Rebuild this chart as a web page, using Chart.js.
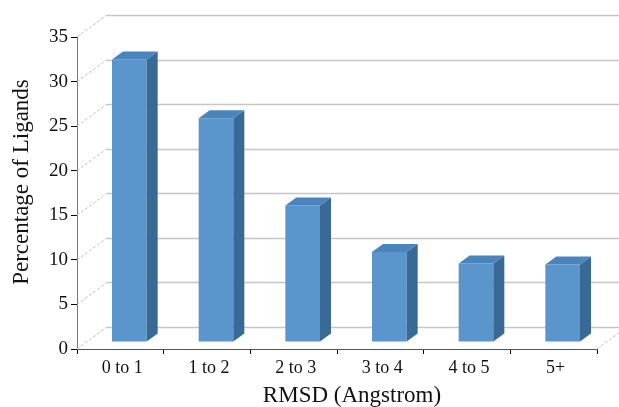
<!DOCTYPE html>
<html>
<head>
<meta charset="utf-8">
<script src="https://cdn.jsdelivr.net/npm/chart.js@4/dist/chart.umd.min.js"></script>
<style>
  html, body { margin: 0; padding: 0; background: #ffffff; }
  #wrap { width: 619px; height: 407px; }
</style>
</head>
<body>
<div id="wrap"><canvas id="c" width="619" height="407"></canvas></div>
<script>
// RMSD bins and share of ligands in each bin (%)
const categories = ['0 to 1', '1 to 2', '2 to 3', '3 to 4', '4 to 5', '5+'];
const percentages = [31.7, 25.1, 15.3, 10.1, 8.8, 8.7];
const yMin = 0;
const yMax = 35;
const yStep = 5;
const xTitle = 'RMSD (Angstrom)';
const yTitle = 'Percentage of Ligands';

const serif = "'Liberation Serif', 'DejaVu Serif', serif";

// Draws the back wall, side wall, floor edge and the 3-D faces of the columns
const box3d = {
  id: 'box3d',
  beforeDatasetsDraw(chart, args, o) {
    const { ctx, chartArea, scales: { x, y } } = chart;
    ctx.save();
    // back wall grid lines
    ctx.strokeStyle = o.gridColor;
    ctx.lineWidth = 1.3;
    y.ticks.forEach(t => {
      const fy = y.getPixelForValue(t.value);
      const by = Math.round(fy + o.depthY) + 0.5;
      ctx.setLineDash([]);
      ctx.beginPath();
      ctx.moveTo(chartArea.left + o.depthX, by);
      ctx.lineTo(chart.width, by);
      ctx.stroke();
      // side wall diagonals
      ctx.setLineDash([3, 2]);
      ctx.strokeStyle = o.diagColor;
      ctx.lineWidth = 1;
      ctx.beginPath();
      ctx.moveTo(chartArea.left, fy);
      ctx.lineTo(chartArea.left + o.depthX, fy + o.depthY);
      ctx.stroke();
      ctx.strokeStyle = o.gridColor;
      ctx.lineWidth = 1.3;
    });
    // right floor edge
    ctx.setLineDash([3, 2]);
    ctx.strokeStyle = o.diagColor;
    ctx.lineWidth = 1;
    const fy0 = y.getPixelForValue(0);
    ctx.beginPath();
    ctx.moveTo(chartArea.right, fy0);
    ctx.lineTo(chartArea.right + o.depthX, fy0 + o.depthY);
    ctx.stroke();
    ctx.restore();

    // columns sit partway into the depth of the box
    ctx.save();
    ctx.translate(o.barShiftX, o.barShiftY);
  },
  afterDatasetsDraw(chart, args, o) {
    const ctx = chart.ctx;
    const meta = chart.getDatasetMeta(0);
    meta.data.forEach(el => {
      const { x, y, base, width } = el.getProps(['x', 'y', 'base', 'width'], true);
      const l = x - width / 2, r = x + width / 2;
      const dx = o.barDepthX, dy = o.barDepthY;
      // right side face
      ctx.fillStyle = o.sideColor;
      ctx.beginPath();
      ctx.moveTo(r, y);
      ctx.lineTo(r + dx, y + dy);
      ctx.lineTo(r + dx, base + dy);
      ctx.lineTo(r, base);
      ctx.closePath();
      ctx.fill();
      // top face
      ctx.fillStyle = o.topColor;
      ctx.beginPath();
      ctx.moveTo(l, y);
      ctx.lineTo(l + dx, y + dy);
      ctx.lineTo(r + dx, y + dy);
      ctx.lineTo(r, y);
      ctx.closePath();
      ctx.fill();
    });
    ctx.restore();
  },
  afterDraw(chart, args, o) {
    const { ctx, chartArea, scales: { y } } = chart;
    ctx.save();
    ctx.fillStyle = '#111';
    ctx.font = '23px ' + serif;
    ctx.textAlign = 'center';
    ctx.textBaseline = 'alphabetic';
    // x title centred under the whole box including its depth
    ctx.fillText(xTitle, (chartArea.left + chartArea.right + o.depthX) / 2, 402);
    // y title centred beside the whole box including its depth
    const cy = (y.getPixelForValue(yMin) + y.getPixelForValue(yMax) + o.depthY) / 2;
    ctx.translate(28, cy);
    ctx.rotate(-Math.PI / 2);
    ctx.fillText(yTitle, 0, 0);
    ctx.restore();
  }
};

new Chart(document.getElementById('c'), {
  type: 'bar',
  data: {
    labels: categories,
    datasets: [{
      data: percentages,
      backgroundColor: '#5A96CB',
      borderWidth: 0,
      barPercentage: 0.40,
      categoryPercentage: 1.0,
      clip: false
    }]
  },
  options: {
    responsive: false,
    animation: false,
    devicePixelRatio: 1,
    layout: { padding: { top: 37, right: 22, left: 0, bottom: 0 } },
    plugins: {
      legend: { display: false },
      tooltip: { enabled: false },
      box3d: {
        depthX: 30, depthY: -22,
        barShiftX: 9, barShiftY: -7,
        barDepthX: 11, barDepthY: -8,
        gridColor: '#c6c6c6',
        diagColor: '#bdbdbd',
        sideColor: '#386A95',
        topColor: '#4A84BC'
      }
    },
    scales: {
      x: {
        grid: { drawOnChartArea: false, drawTicks: true, tickLength: 5, tickColor: '#000', offset: true },
        border: { color: '#555', width: 1 },
        ticks: { font: { family: serif, size: 18 }, color: '#111', padding: 3, labelOffset: 2, maxRotation: 0 },
        afterFit: s => { s.height = 58; }
      },
      y: {
        min: yMin,
        max: yMax,
        grid: { drawOnChartArea: false, drawTicks: true, tickLength: 6, tickColor: '#000' },
        border: { color: '#777', width: 1 },
        ticks: { stepSize: yStep, font: { family: serif, size: 19 }, color: '#111', padding: 3 },
        afterFit: s => { s.width = 77; }
      }
    }
  },
  plugins: [box3d]
});
</script>
</body>
</html>
